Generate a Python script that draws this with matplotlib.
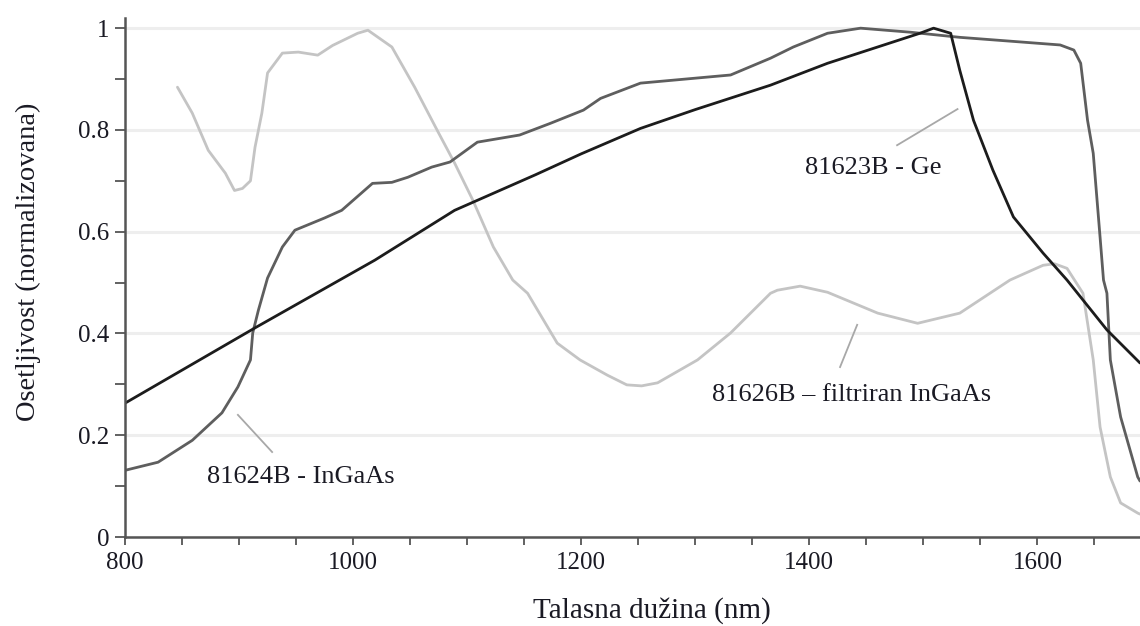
import matplotlib.pyplot as plt
from matplotlib.ticker import MultipleLocator, FuncFormatter

plt.rcParams["font.family"] = ["Liberation Serif", "DejaVu Serif"]

# 81623B - Ge (black)
ge_nm = [800, 914, 1019, 1089, 1160, 1200, 1252, 1300, 1366, 1416, 1497, 1509, 1524,
         1532, 1544, 1561, 1579, 1605, 1626, 1661, 1690]
ge_val = [0.263, 0.411, 0.544, 0.642, 0.712, 0.753, 0.803, 0.840, 0.888, 0.931, 0.990,
          1.0, 0.990, 0.917, 0.819, 0.721, 0.629, 0.558, 0.505, 0.407, 0.342]

# 81624B - InGaAs (medium grey)
ingaas_nm = [800, 829, 859, 885, 899, 910, 912, 917, 925, 938, 949, 975, 990,
             1017, 1034, 1048, 1069, 1085, 1109, 1146, 1173, 1202, 1217, 1252,
             1331, 1366, 1386, 1416, 1445, 1489, 1532, 1620, 1632, 1638, 1644,
             1649, 1655, 1658, 1661, 1664, 1673, 1688, 1690]
ingaas_val = [0.131, 0.147, 0.190, 0.244, 0.295, 0.348, 0.401, 0.446, 0.509, 0.570,
              0.603, 0.627, 0.642, 0.695, 0.697, 0.707, 0.727, 0.737, 0.776, 0.790,
              0.813, 0.839, 0.862, 0.892, 0.908, 0.941, 0.963, 0.990, 1.0, 0.992,
              0.982, 0.967, 0.957, 0.931, 0.819, 0.754, 0.589, 0.505, 0.479, 0.348,
              0.236, 0.118, 0.110]

# 81626B - filtered InGaAs (light grey)
filt_nm = [846, 859, 873, 888, 896, 903, 910, 914, 920, 925, 938, 952, 969, 982,
           1004, 1013, 1034, 1054, 1075, 1089, 1105, 1123, 1140, 1153, 1179, 1199,
           1223, 1240, 1253, 1267, 1302, 1331, 1366, 1372, 1392, 1416, 1460, 1495,
           1532, 1576, 1605, 1615, 1626, 1640, 1649, 1655, 1664, 1673, 1688, 1690]
filt_val = [0.884, 0.833, 0.760, 0.715, 0.681, 0.685, 0.700, 0.766, 0.833, 0.912,
            0.951, 0.953, 0.947, 0.966, 0.990, 0.996, 0.963, 0.884, 0.794, 0.735,
            0.662, 0.570, 0.505, 0.479, 0.381, 0.348, 0.318, 0.299, 0.297, 0.303,
            0.348, 0.401, 0.479, 0.485, 0.493, 0.481, 0.440, 0.420, 0.440, 0.505,
            0.534, 0.537, 0.528, 0.479, 0.348, 0.216, 0.118, 0.067, 0.047, 0.045]

# labels: text, text anchor (left, centre y), leader line start/end
labels = ["81623B - Ge", "81626B \u2013 filtriran InGaAs", "81624B - InGaAs"]
label_pos = [(1396, 0.725), (1315, 0.279), (872, 0.118)]
leader_from = [(1477, 0.770), (1427, 0.334), (929, 0.167)]
leader_to = [(1530, 0.841), (1442, 0.417), (899, 0.240)]

fig = plt.figure(figsize=(11.4, 6.26), dpi=100)
ax = fig.add_axes([125 / 1140, 89 / 626, 1015 / 1140, 519 / 626])

style = dict(lw=2.0, solid_capstyle="round", solid_joinstyle="round")
ax.plot(filt_nm, filt_val, color="#c4c4c4", **style)
ax.plot(ingaas_nm, ingaas_val, color="#5e5e5e", **style)
ax.plot(ge_nm, ge_val, color="#1c1c1c", **style)

for txt, pos, p0, p1 in zip(labels, label_pos, leader_from, leader_to):
    ax.plot([p0[0], p1[0]], [p0[1], p1[1]], color="#a8a8a8", lw=1.3)
    ax.text(pos[0], pos[1], txt, ha="left", va="center", fontsize=19, color="#1a1a24")

ax.set_xlim(800, 1690)
ax.set_ylim(0, 1.02)
ax.xaxis.set_major_locator(MultipleLocator(200))
ax.xaxis.set_minor_locator(MultipleLocator(50))
ax.yaxis.set_major_locator(MultipleLocator(0.2))
ax.yaxis.set_minor_locator(MultipleLocator(0.1))
ax.yaxis.set_major_formatter(FuncFormatter(lambda v, p: "%g" % round(v, 2)))

ax.grid(axis="y", which="major", color="#eeeeee", lw=2.2)
ax.set_axisbelow(True)
for s in ["top", "right"]:
    ax.spines[s].set_visible(False)
for s in ["left", "bottom"]:
    ax.spines[s].set_color("#555555")
    ax.spines[s].set_linewidth(1.8)

ax.tick_params(which="both", color="#555555", width=1.3, labelsize=18, labelcolor="#1a1a24")
ax.tick_params(axis="y", which="both", length=7, pad=4)
ax.tick_params(axis="x", which="both", length=6, pad=5)

ax.set_xlabel("Talasna dužina (nm)", fontsize=21, color="#1a1a24")
ax.xaxis.set_label_coords((652 - 125) / 1015, -0.115)
ax.set_ylabel("Osetljivost (normalizovana)", fontsize=20.5, color="#1a1a24")
ax.yaxis.set_label_coords(-0.083, (537 - 262) / 519)

fig.savefig("out.png", dpi=100)
